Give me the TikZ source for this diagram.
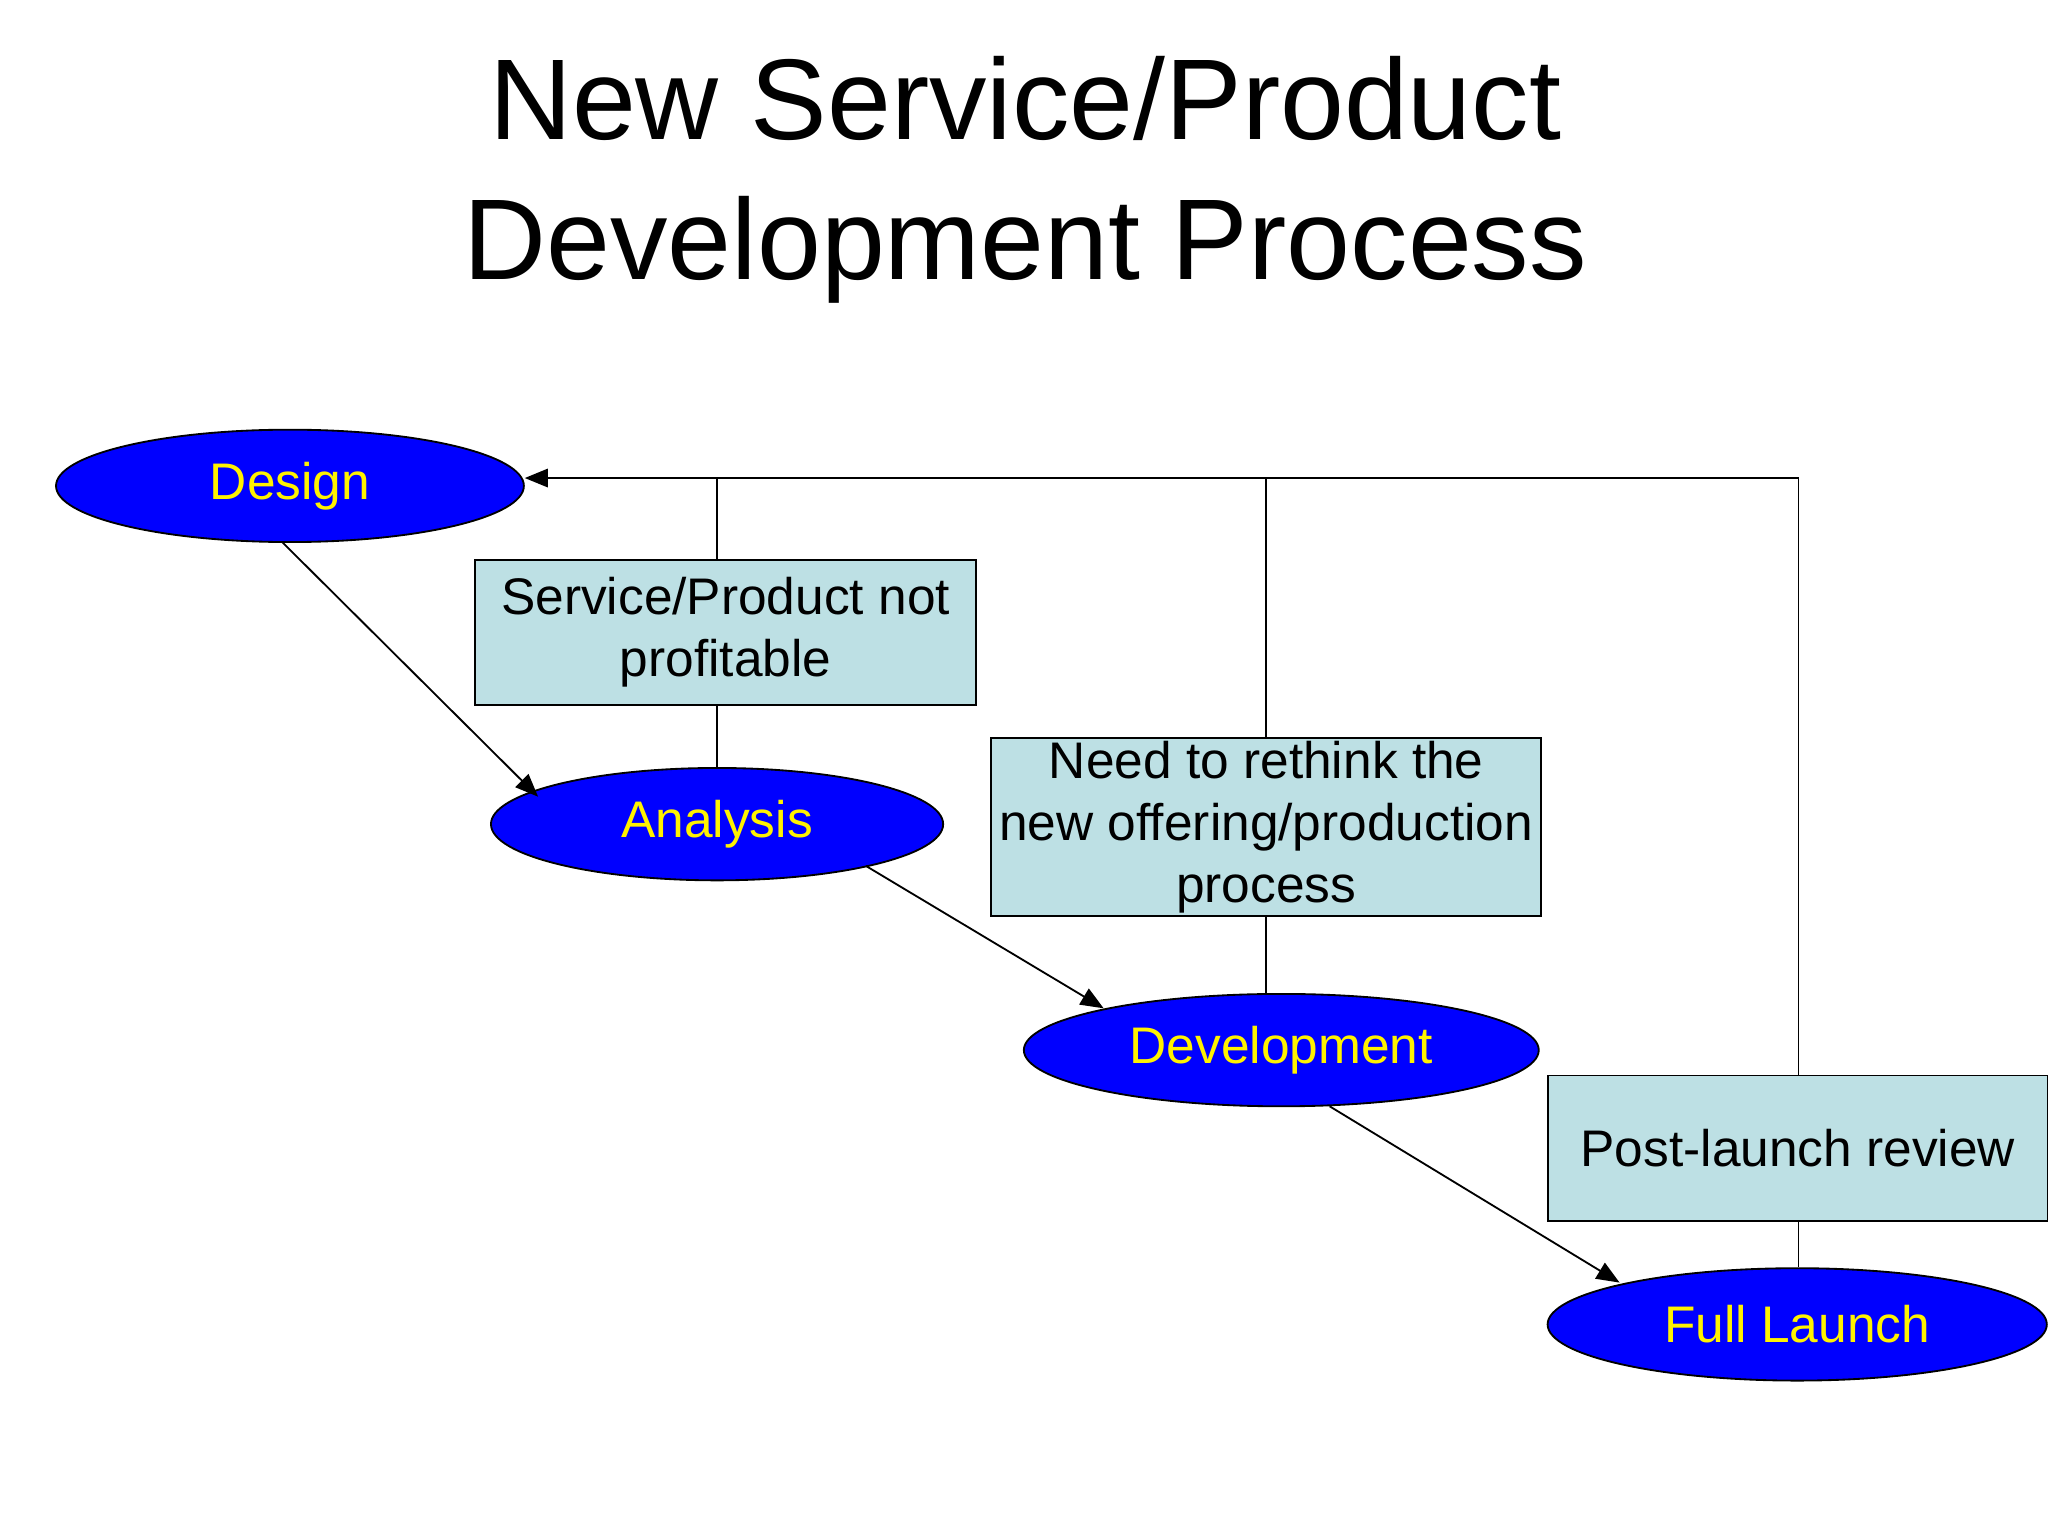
\documentclass[tikz,border=0pt]{standalone}
\usepackage{fontspec}
\setmainfont{Liberation Sans}
\usetikzlibrary{shapes.geometric,arrows.meta}
\definecolor{boxblue}{RGB}{189,224,228}
\tikzset{
  stage/.style={ellipse, draw, fill=blue, text=yellow, inner sep=0pt, minimum height=0.86cm, font=\fontsize{11.2}{13}\selectfont},
  cause/.style={draw, fill=boxblue, inner sep=0pt, align=center, font=\fontsize{11.2}{13.5}\selectfont},
  flow/.style={-{Triangle[length=5pt,width=4pt]}}
}
\begin{document}
\begin{tikzpicture}[x=0.01cm,y=-0.01cm]
      \useasboundingbox (0,0) rectangle (1568,1176);
      \node[font=\fontsize{25}{30.5}\selectfont, align=center] (title) at (785,138) {New Service/Product\\Development Process};

      \node[stage, minimum width=3.58cm] (design) at (222,372) {\raisebox{-2pt}{Design}};
      \node[stage, minimum width=3.46cm] (analysis) at (549,631) {\raisebox{-2pt}{Analysis}};
      \node[stage, minimum width=3.94cm] (devel) at (981,804) {\raisebox{-2pt}{Development}};
      \node[stage, minimum width=3.82cm] (launch) at (1376,1014) {\raisebox{-2pt}{Full Launch}};

      \node[cause, minimum width=3.83cm, minimum height=1.11cm] (notprof) at (555.5,484) {Service/Product not\\profitable};
      \node[cause, minimum width=4.21cm, minimum height=1.36cm] (rethink) at (969.5,633) {Need to rethink the\\new offering/production\\process};
      \node[cause, minimum width=3.83cm, minimum height=1.11cm] (review) at (1376.5,879) {Post-launch review};

      \coordinate (c1) at (549,366);
      \coordinate (c2) at (969,366);
      \coordinate (c3) at (1377,366);

      \draw[flow] (c3) -- (design.east |- c3);
      \draw (c1) -- (c1 |- notprof.north) (c1 |- notprof.south) -- (analysis.north);
      \draw (c2) -- (c2 |- rethink.north) (c2 |- rethink.south) -- (c2 |- devel.north);
      \draw (c3) -- (c3 |- review.north) (c3 |- review.south) -- (c3 |- launch.north);

      \draw[flow] (216,415) -- (412,610);
      \draw[flow] (663,663) -- (845,772);
      \draw[flow] (1018,847) -- (1240,982);
\end{tikzpicture}
\end{document}
